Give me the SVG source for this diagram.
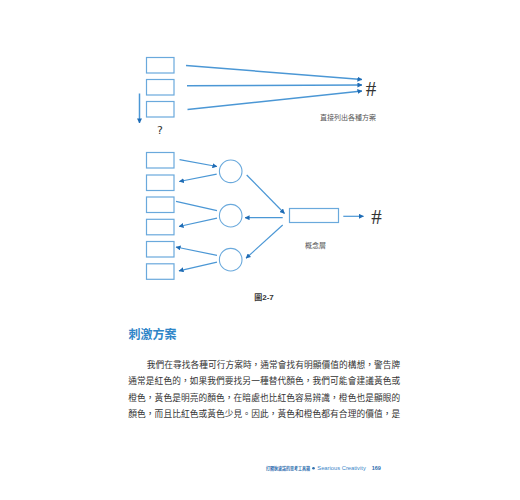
<svg xmlns="http://www.w3.org/2000/svg" width="520" height="500" viewBox="0 0 520 500">
<defs>
<style>
.box{fill:#fff;stroke:#6aa9dc;stroke-width:1.2}
.circ{fill:#fff;stroke:#6aa9dc;stroke-width:1.1}
.ln{stroke:#4b97d5;stroke-width:1.2;fill:none}
.lnb{stroke:#4b97d5;stroke-width:1.5;fill:none}
.ar{marker-end:url(#ah)}
.lbl{font-family:"Noto Sans CJK TC","Noto Sans CJK SC",sans-serif;font-size:7px;fill:#555}
.hash{font-family:"Liberation Serif","DejaVu Serif",serif;font-size:21px;fill:#333}
.body{font-family:"Noto Sans CJK TC","Noto Sans CJK SC",sans-serif;font-size:8.7px;fill:#333}
</style>
<marker id="ah" viewBox="0 0 6 6" refX="5.5" refY="3" markerWidth="5" markerHeight="5" markerUnits="userSpaceOnUse" orient="auto">
<path d="M0,0 L6,3 L0,6 z" fill="#1f6cb5"/>
</marker>
</defs>
<rect width="520" height="500" fill="#fff"/>

<g id="top-nodes">
<g id="t1"><rect class="box" x="146.5" y="57.5" width="27.5" height="15.5"/></g>
<g id="t2"><rect class="box" x="146.5" y="79.5" width="27.5" height="15.5"/></g>
<g id="t3"><rect class="box" x="146.5" y="101.5" width="27.5" height="15.5"/></g>
<g id="hash1"><text class="hash" x="371" y="95.5" text-anchor="middle">#</text></g>
<g id="q"><text x="160" y="134" text-anchor="middle" font-family="DejaVu Sans, sans-serif" font-size="11" fill="#333">?</text></g>
<g id="lbl1"><text class="lbl" x="348" y="119.5" text-anchor="middle" xml:lang="zh-TW">直接列出各種方案</text></g>
</g>

<g id="mid-nodes">
<g id="m1"><rect class="box" x="146.5" y="152.5" width="27.5" height="15.5"/></g>
<g id="m2"><rect class="box" x="146.5" y="175" width="27.5" height="15.5"/></g>
<g id="m3"><rect class="box" x="146.5" y="197" width="27.5" height="15.5"/></g>
<g id="m4"><rect class="box" x="146.5" y="219.3" width="27.5" height="15.5"/></g>
<g id="m5"><rect class="box" x="146.5" y="241.5" width="27.5" height="15.5"/></g>
<g id="m6"><rect class="box" x="146.5" y="263.8" width="27.5" height="15.5"/></g>
<g id="c1"><circle class="circ" cx="230.7" cy="171.3" r="11.3"/></g>
<g id="c2"><circle class="circ" cx="230.7" cy="215.7" r="11.3"/></g>
<g id="c3"><circle class="circ" cx="230.7" cy="259.7" r="11.3"/></g>
<g id="concept"><rect class="box" x="289.5" y="208.5" width="49" height="14"/></g>
<g id="hash2"><text class="hash" x="376.5" y="223.5" text-anchor="middle">#</text></g>
<g id="lbl2"><text class="lbl" x="315.5" y="247.5" text-anchor="middle" xml:lang="zh-TW">概念層</text></g>
</g>

<g id="connectors">
<line class="lnb ar" x1="186" y1="65.5" x2="362" y2="79.5"/>
<line class="lnb ar" x1="187" y1="85.7" x2="362" y2="85"/>
<line class="lnb ar" x1="187.5" y1="109.5" x2="362" y2="91"/>
<line class="lnb ar" x1="139.5" y1="93.5" x2="139.5" y2="123"/>

<line class="ln ar" x1="179.5" y1="159.7" x2="217" y2="166.5"/>
<line class="ln ar" x1="216.7" y1="174.2" x2="179.3" y2="181.5"/>
<line class="ln" x1="176" y1="201.3" x2="217" y2="210.7"/>
<line class="ln ar" x1="217" y1="218.2" x2="179" y2="226.5"/>
<line class="ln ar" x1="217" y1="255.3" x2="176" y2="247"/>
<line class="ln ar" x1="217" y1="262.2" x2="179" y2="270.8"/>

<line class="ln ar" x1="246.7" y1="175" x2="284.5" y2="213.5"/>
<line class="ln ar" x1="282.7" y1="217.7" x2="245" y2="217.7"/>
<line class="ln ar" x1="282.7" y1="225" x2="246" y2="258.3"/>
<line class="ln ar" x1="343.3" y1="216.3" x2="363.5" y2="216.3"/>
</g>

<g id="caption"><text x="264" y="300" text-anchor="middle" font-family="Liberation Sans, Noto Sans CJK TC, sans-serif" font-size="8" font-weight="bold" fill="#333" xml:lang="zh-TW">圖2-7</text></g>

<g id="title"><text x="128.5" y="339" font-family="Noto Sans CJK TC, sans-serif" font-size="12.3" font-weight="bold" fill="#2f86c8" textLength="48" lengthAdjust="spacingAndGlyphs" xml:lang="zh-TW">刺激方案</text></g>

<g id="bodytext" class="body" xml:lang="zh-TW">
<text class="body" x="146.7" y="367.5" textLength="253.5" lengthAdjust="spacing">我們在尋找各種可行方案時，通常會找有明顯價值的構想，警告牌</text>
<text class="body" x="128.3" y="384" textLength="271.9" lengthAdjust="spacing">通常是紅色的，如果我們要找另一種替代顏色，我們可能會建議黃色或</text>
<text class="body" x="128.3" y="400.5" textLength="271.9" lengthAdjust="spacing">橙色，黃色是明亮的顏色，在暗處也比紅色容易辨識，橙色也是顯眼的</text>
<text class="body" x="128.3" y="417" textLength="271.9" lengthAdjust="spacing">顏色，而且比紅色或黃色少見。因此，黃色和橙色都有合理的價值，是</text>
</g>

<g id="footer" xml:lang="zh-TW">
<text x="266" y="470" font-family="Noto Sans CJK TC, sans-serif" font-size="5" font-weight="bold" fill="#2f6fae" textLength="44" lengthAdjust="spacingAndGlyphs">打開狄波諾的思考工具箱</text>
<circle cx="313.5" cy="468.3" r="1.3" fill="#2f6fae"/>
<text x="317.3" y="470" font-family="Liberation Sans, sans-serif" font-size="6" fill="#3a86c8" textLength="48.5" lengthAdjust="spacingAndGlyphs">Searious Creativity</text>
<text x="371.7" y="470" font-family="Liberation Sans, sans-serif" font-size="5.5" font-weight="bold" fill="#2f6fae">169</text>
</g>
</svg>
